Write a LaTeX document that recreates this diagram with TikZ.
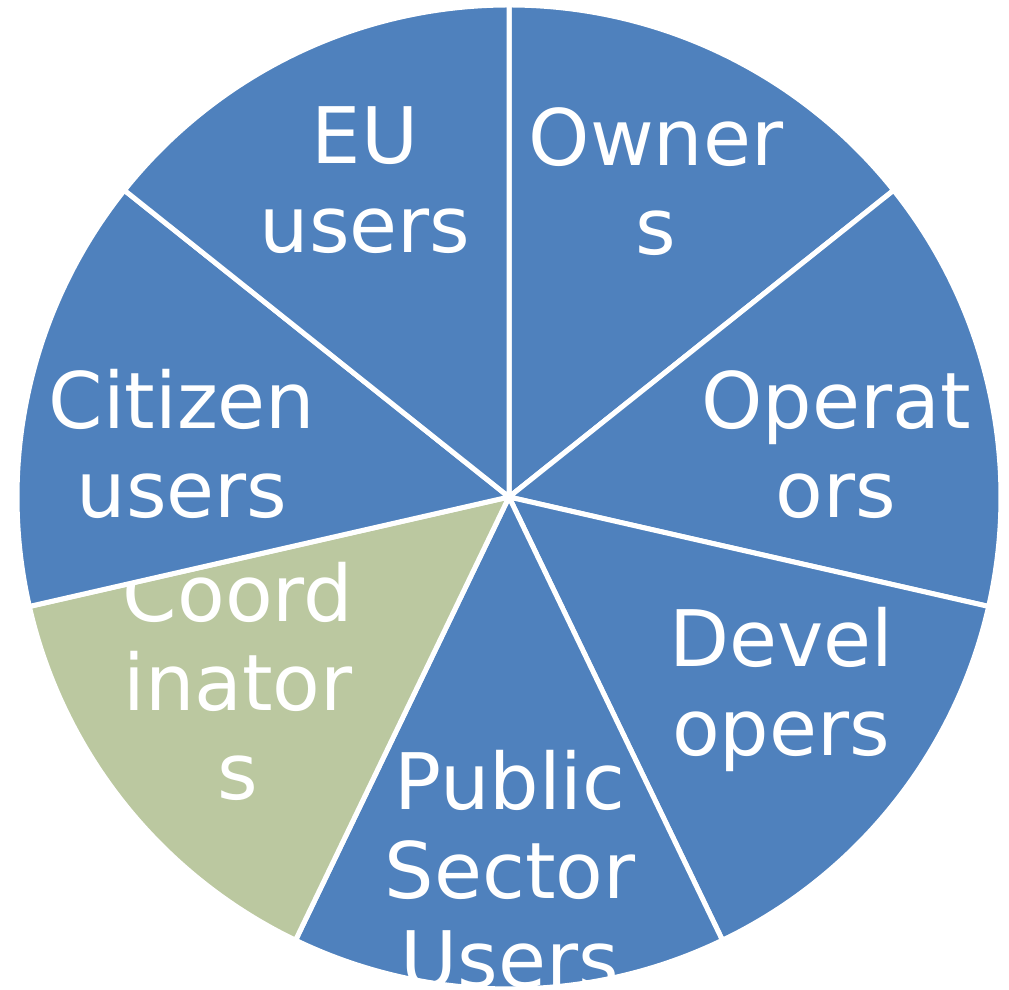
\documentclass[tikz,border=0pt]{standalone}
\usepackage{fontspec}
\setmainfont{DejaVu Sans}
\definecolor{pieblue}{RGB}{79,129,189}
\definecolor{piegreen}{RGB}{187,200,160}
\begin{document}
\begin{tikzpicture}[x=1pt,y=1pt,
  slice/.style={draw=white,line width=5pt,line join=round},
  lbl/.style={text=white,align=center,inner sep=0pt,anchor=base,
    font=\fontsize{78}{89}\selectfont}]
\useasboundingbox[fill=white] (0,0) rectangle (1009,990);
\coordinate (C) at (509,493);
\def\R{492}
% Owners
\filldraw[slice,fill=pieblue] (C) -- ++(90:\R) arc[start angle=90,end angle=38.571,radius=\R] -- cycle;
\node[lbl] (owners) at (656,735) {Owner\\s};
% Operators
\filldraw[slice,fill=pieblue] (C) -- ++(38.571:\R) arc[start angle=38.571,end angle=-12.857,radius=\R] -- cycle;
\node[lbl] (operators) at (836,472) {Operat\\ors};
% Developers
\filldraw[slice,fill=pieblue] (C) -- ++(-12.857:\R) arc[start angle=-12.857,end angle=-64.286,radius=\R] -- cycle;
\node[lbl] (developers) at (781,234) {Devel\\opers};
% Public Sector Users
\filldraw[slice,fill=pieblue] (C) -- ++(-64.286:\R) arc[start angle=-64.286,end angle=-115.714,radius=\R] -- cycle;
\node[lbl] (public) at (510,2) {Public\\Sector\\Users};
% Coordinators
\filldraw[slice,fill=piegreen] (C) -- ++(-115.714:\R) arc[start angle=-115.714,end angle=-167.143,radius=\R] -- cycle;
\node[lbl] (coord) at (238,190) {Coord\\inator\\s};
% Citizen users
\filldraw[slice,fill=pieblue] (C) -- ++(192.857:\R) arc[start angle=192.857,end angle=141.429,radius=\R] -- cycle;
\node[lbl] (citizen) at (182,472) {Citizen\\users};
% EU users
\filldraw[slice,fill=pieblue] (C) -- ++(141.429:\R) arc[start angle=141.429,end angle=90,radius=\R] -- cycle;
\node[lbl] (eu) at (365,737) {EU\\users};
\end{tikzpicture}
\end{document}
